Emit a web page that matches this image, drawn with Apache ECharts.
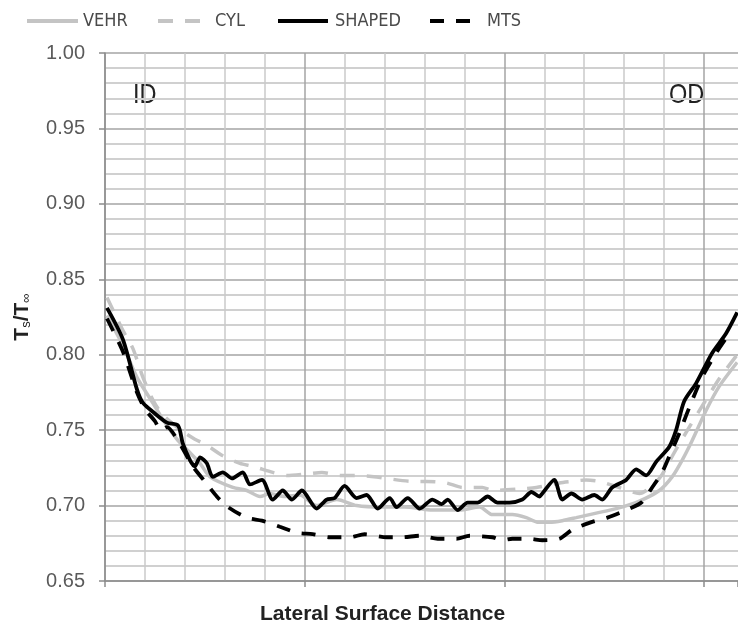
<!DOCTYPE html>
<html>
<head>
<meta charset="utf-8">
<script src="https://cdn.jsdelivr.net/npm/echarts@6/dist/echarts.min.js"></script>
<style>html,body{margin:0;padding:0;background:#fff}#c{width:738px;height:630px}</style>
</head>
<body>
<div id="c"></div>
<script>
// Lateral surface distance (grid units) vs Ts/T∞
const VEHR = [[0.05,0.826],[0.45,0.806],[0.8,0.785],[1.2,0.768],[1.45,0.757],[1.83,0.743],[2.13,0.735],[2.38,0.728],[2.63,0.719],[3.2,0.712],[3.55,0.710],[3.88,0.706],[4.13,0.708],[4.5,0.706],[4.88,0.707],[5.3,0.700],[5.8,0.704],[6.3,0.700],[6.95,0.699],[7.5,0.699],[8.2,0.697],[8.88,0.697],[9.38,0.699],[9.7,0.694],[10.2,0.694],[10.55,0.692],[10.83,0.689],[11.13,0.689],[11.45,0.690],[11.8,0.692],[12.3,0.695],[12.8,0.698],[13.38,0.703],[13.88,0.710],[14.2,0.719],[14.45,0.730],[14.7,0.743],[15.05,0.763],[15.38,0.779],[15.83,0.795]];
const CYL = [[0.05,0.838],[0.45,0.816],[0.7,0.804],[0.95,0.785],[1.2,0.770],[1.45,0.760],[1.95,0.749],[2.25,0.744],[2.55,0.740],[2.95,0.733],[3.38,0.728],[3.7,0.726],[4.2,0.722],[4.55,0.720],[5.05,0.721],[5.43,0.722],[5.88,0.720],[6.25,0.720],[6.8,0.719],[7.05,0.718],[7.7,0.716],[8.05,0.716],[8.55,0.715],[8.95,0.712],[9.45,0.712],[9.7,0.710],[10.38,0.711],[10.8,0.712],[11.38,0.715],[11.7,0.716],[12.05,0.717],[12.38,0.716],[12.88,0.712],[13.38,0.708],[13.88,0.718],[14.25,0.735],[14.63,0.752],[15.0,0.768],[15.38,0.784],[15.83,0.800]];
const SHAPED = [[0.05,0.831],[0.45,0.810],[0.8,0.777],[0.95,0.768],[1.25,0.761],[1.55,0.755],[1.83,0.753],[1.95,0.741],[2.13,0.730],[2.25,0.726],[2.38,0.732],[2.55,0.728],[2.7,0.719],[2.95,0.722],[3.18,0.718],[3.45,0.722],[3.63,0.714],[3.93,0.717],[4.2,0.704],[4.45,0.710],[4.68,0.704],[4.93,0.710],[5.3,0.698],[5.55,0.704],[5.75,0.705],[6.0,0.713],[6.3,0.705],[6.55,0.707],[6.83,0.698],[7.13,0.705],[7.3,0.699],[7.58,0.705],[7.88,0.698],[8.2,0.704],[8.43,0.701],[8.58,0.704],[8.83,0.697],[9.08,0.702],[9.33,0.702],[9.58,0.706],[9.83,0.702],[10.13,0.702],[10.45,0.704],[10.68,0.709],[10.88,0.706],[10.95,0.708],[11.25,0.717],[11.45,0.704],[11.68,0.708],[11.95,0.704],[12.25,0.707],[12.45,0.704],[12.7,0.712],[13.05,0.717],[13.3,0.724],[13.55,0.720],[13.8,0.729],[14.13,0.739],[14.3,0.750],[14.5,0.769],[14.8,0.781],[15.2,0.801],[15.55,0.814],[15.83,0.828]];
const MTS = [[0.05,0.824],[0.45,0.802],[0.8,0.775],[1.0,0.764],[1.25,0.756],[1.4,0.750],[1.55,0.752],[1.85,0.742],[2.2,0.726],[2.5,0.716],[2.8,0.706],[3.08,0.699],[3.55,0.692],[3.93,0.690],[4.38,0.686],[4.8,0.682],[5.2,0.681],[5.63,0.679],[6.13,0.679],[6.5,0.681],[7.05,0.679],[7.45,0.679],[7.88,0.680],[8.33,0.678],[8.8,0.678],[9.13,0.680],[9.7,0.679],[9.95,0.677],[10.2,0.678],[10.63,0.678],[10.95,0.677],[11.38,0.678],[11.7,0.684],[12.18,0.689],[12.58,0.692],[13.05,0.697],[13.43,0.702],[13.7,0.712],[13.95,0.722],[14.2,0.737],[14.38,0.748],[14.63,0.765],[14.95,0.785],[15.3,0.801],[15.58,0.812]];
const SERIES_NAMES = ['VEHR','CYL','SHAPED','MTS'];
const Y_MIN = 0.65, Y_MAX = 1.00, Y_STEP = 0.05;
const X_MIN = 0, X_MAX = 15.85, X_MAJOR = 5, X_MINOR = 1;

const chart = echarts.init(document.getElementById('c'), null, {renderer:'canvas'});
const GRAY = '#c4c4c4';
const FONT = '"Liberation Sans",Arial,sans-serif';
const legendFont = {fontFamily:'"DejaVu Sans Condensed","Liberation Sans",Arial,sans-serif', fontSize:18, color:'#4a4a4a'};
function mkLegend(name, left, w, pad, icon){
  return {data:[name], left:left, top:7, itemWidth:w, itemHeight:4, itemGap:0, icon:icon,
    textStyle:Object.assign({padding:[3,0,0,pad]}, legendFont)};
}
// vertical split-line colours: darker every major step, none at the clipped right edge
const nMinor = Math.floor(X_MAX / X_MINOR) + 1;
const vColors = [];
for (let i = 0; i < nMinor; i++) vColors.push(i % (X_MAJOR / X_MINOR) === 0 ? '#a4a4a4' : '#cacaca');
vColors.push('rgba(0,0,0,0)');

chart.setOption({
  animation:false,
  backgroundColor:'#ffffff',
  legend:[
    mkLegend('VEHR',22,51,0,'rect'),
    mkLegend('CYL',153,42,10,'path://M0,0h15v4h-15z M27,0h15v4h-15z'),
    mkLegend('SHAPED',273,50,2,'rect'),
    mkLegend('MTS',425,40,12,'path://M0,0h14v4h-14z M26,0h14v4h-14z')
  ],
  grid:{left:105, top:53, right:0, bottom:49, containLabel:false},
  xAxis:[
    {type:'value', min:X_MIN, max:X_MAX, interval:X_MINOR, position:'bottom',
      axisLine:{show:false}, axisTick:{show:false}, axisLabel:{show:false},
      splitLine:{show:true, lineStyle:{color:vColors, width:1.5}}},
    {type:'value', min:X_MIN, max:X_MAX, interval:X_MAJOR, position:'bottom',
      axisLine:{show:true, onZero:false, lineStyle:{color:'#8c8c8c', width:1.5}},
      axisTick:{show:true, length:6, lineStyle:{color:'#8c8c8c', width:1.5}},
      axisLabel:{show:false}, splitLine:{show:false}}
  ],
  yAxis:{type:'value', min:Y_MIN, max:Y_MAX, interval:Y_STEP,
    name:'{t|T}{s|s}{t|/T}{s|∞}', nameLocation:'middle', nameGap:72, nameRotate:90,
    nameTextStyle:{rich:{
      t:{fontFamily:FONT, fontWeight:'bold', fontSize:21, color:'#222'},
      s:{fontFamily:FONT, fontSize:13, color:'#222', verticalAlign:'bottom', padding:[8,0,0,0]}
    }},
    axisLine:{show:true, lineStyle:{color:'#8c8c8c', width:1.5}},
    axisTick:{show:true, length:6, lineStyle:{color:'#8c8c8c', width:1.5}},
    axisLabel:{margin:20, fontFamily:FONT, fontSize:20, color:'#5a5a5a', formatter:v=>v.toFixed(2)},
    splitLine:{show:true, lineStyle:{color:'#a4a4a4', width:1.5}},
    minorTick:{show:false, splitNumber:5},
    minorSplitLine:{show:true, lineStyle:{color:'#d0d0d0', width:2}}
  },
  graphic:[
    {type:'text', x:133, y:81, scaleX:0.84, style:{text:'ID', font:'28px ' + FONT, fill:'#222'}},
    {type:'text', x:669, y:81, scaleX:0.84, style:{text:'OD', font:'28px ' + FONT, fill:'#222'}},
    {type:'text', left:260, top:604, style:{text:'Lateral Surface Distance', font:'bold 21px ' + FONT, fill:'#222'}}
  ],
  series:[
    {name:SERIES_NAMES[0], type:'line', data:VEHR, symbol:'none', smooth:0.25, color:GRAY, lineStyle:{color:GRAY, width:3.5}, z:2},
    {name:SERIES_NAMES[1], type:'line', data:CYL, symbol:'none', smooth:0.25, color:GRAY, lineStyle:{color:GRAY, width:3.5, type:[15,12]}, z:2},
    {name:SERIES_NAMES[2], type:'line', data:SHAPED, symbol:'none', smooth:0.25, color:'#000', lineStyle:{color:'#000', width:3.8}, z:4},
    {name:SERIES_NAMES[3], type:'line', data:MTS, symbol:'none', smooth:0.25, color:'#000', lineStyle:{color:'#000', width:3.8, type:[14,12]}, z:3}
  ]
});
</script>
</body>
</html>
